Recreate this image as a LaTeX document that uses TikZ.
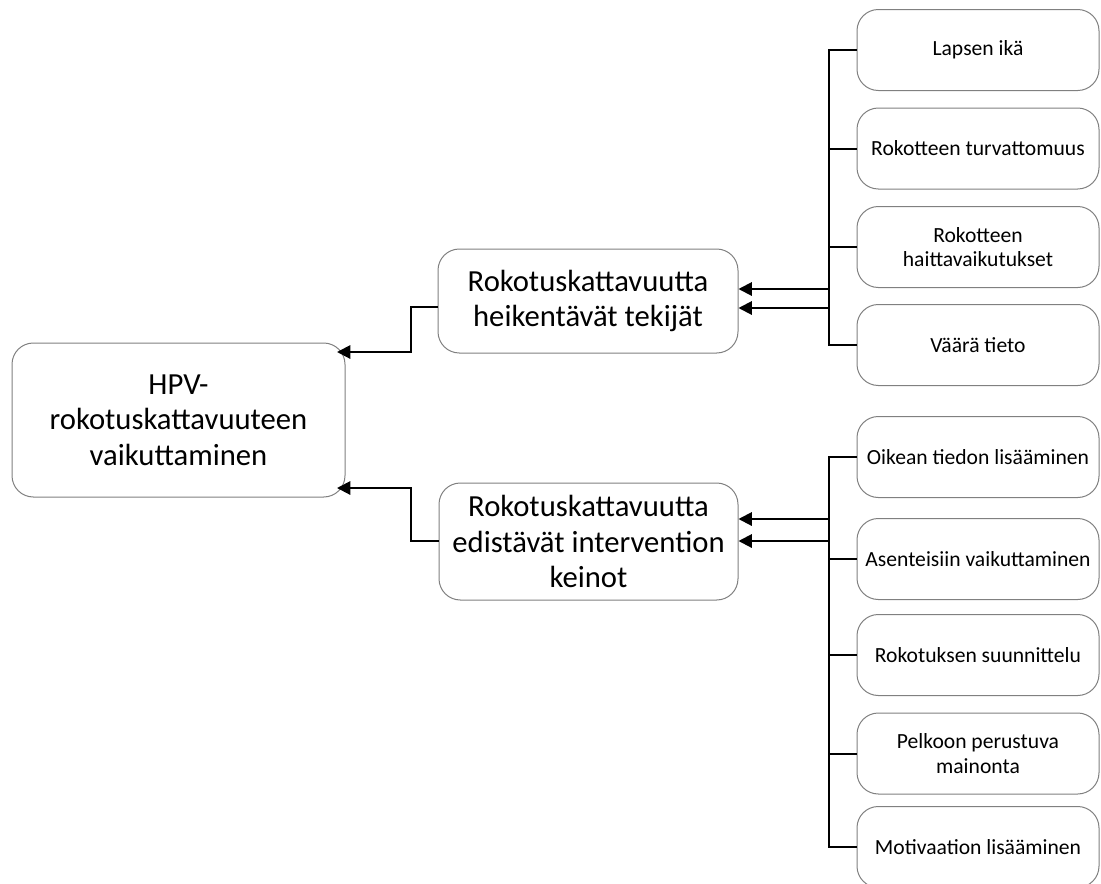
\documentclass[tikz,border=0pt]{standalone}
\usepackage{fontspec}
\setmainfont{Carlito}
\usetikzlibrary{arrows.meta}
\definecolor{boxline}{RGB}{128,128,128}
\tikzset{
  box/.style={draw=boxline, line width=0.75pt, rounded corners=16pt, align=center, inner sep=2pt},
  bigbox/.style={box, font=\fontsize{23}{26.5}\selectfont},
  smallbox/.style={box, font=\fontsize{16.2}{18.3}\selectfont, minimum width=181.5pt, minimum height=60.75pt},
  conn/.style={line width=1.5pt, black},
  arr/.style={conn, -{Triangle[length=10pt,width=10pt]}}
}
\begin{document}
\begin{tikzpicture}[x=0.75pt,y=-0.75pt]
\useasboundingbox (0,0) rectangle (1101,883);
% main boxes
\node[bigbox, minimum width=249.75pt, minimum height=115.5pt] (h) at (178.5,420) {HPV-\\rokotuskattavuuteen\\vaikuttaminen};
\node[bigbox, minimum width=225pt, minimum height=78pt] (m1) at (588,301) {Rokotuskattavuutta\\heikentävät tekijät};
\node[bigbox, minimum width=224.25pt, minimum height=87.75pt] (m2) at (588.5,541.5) {Rokotuskattavuutta\\edistävät intervention\\keinot};
% right boxes
\node[smallbox] (r1) at (978,50) {Lapsen ikä};
\node[smallbox] (r2) at (978,148.5) {Rokotteen turvattomuus};
\node[smallbox] (r3) at (978,247) {Rokotteen\\haittavaikutukset};
\node[smallbox] (r4) at (978,345) {Väärä tieto};
\node[smallbox] (s1) at (978,457) {Oikean tiedon lisääminen};
\node[smallbox] (s2) at (978,559) {Asenteisiin vaikuttaminen};
\node[smallbox] (s3) at (978,655) {Rokotuksen suunnittelu};
\node[smallbox] (s4) at (978,753.5) {Pelkoon perustuva\\mainonta};
\node[smallbox] (s5) at (978,847) {Motivaation lisääminen};
% bus coordinates
\coordinate (bx1) at (829,200);
\coordinate (bx2) at (829,650);
\coordinate (a1) at (829,289);
\coordinate (a2) at (829,308);
\coordinate (a3) at (829,519);
\coordinate (a4) at (829,541);
% top bus
\draw[conn] (r1.west) -| (bx1) |- (r4.west);
\draw[conn] (r2.west) -- (r2.west -| bx1);
\draw[conn] (r3.west) -- (r3.west -| bx1);
% bottom bus
\draw[conn] (s1.west) -| (bx2) |- (s5.west);
\draw[conn] (s2.west) -- (s2.west -| bx2);
\draw[conn] (s3.west) -- (s3.west -| bx2);
\draw[conn] (s4.west) -- (s4.west -| bx2);
% arrows into middle boxes
\draw[arr] (a1) -- (a1 -| m1.east);
\draw[arr] (a2) -- (a2 -| m1.east);
\draw[arr] (a3) -- (a3 -| m2.east);
\draw[arr] (a4) -- (a4 -| m2.east);
% arrows into left box
\coordinate (j1) at (411,307);
\coordinate (t1) at (337,352);
\coordinate (j2) at (411,541);
\coordinate (t2) at (337,488);
\draw[arr] (m1.west |- j1) -- (j1) |- (t1);
\draw[arr] (m2.west |- j2) -- (j2) |- (t2);
\end{tikzpicture}
\end{document}
